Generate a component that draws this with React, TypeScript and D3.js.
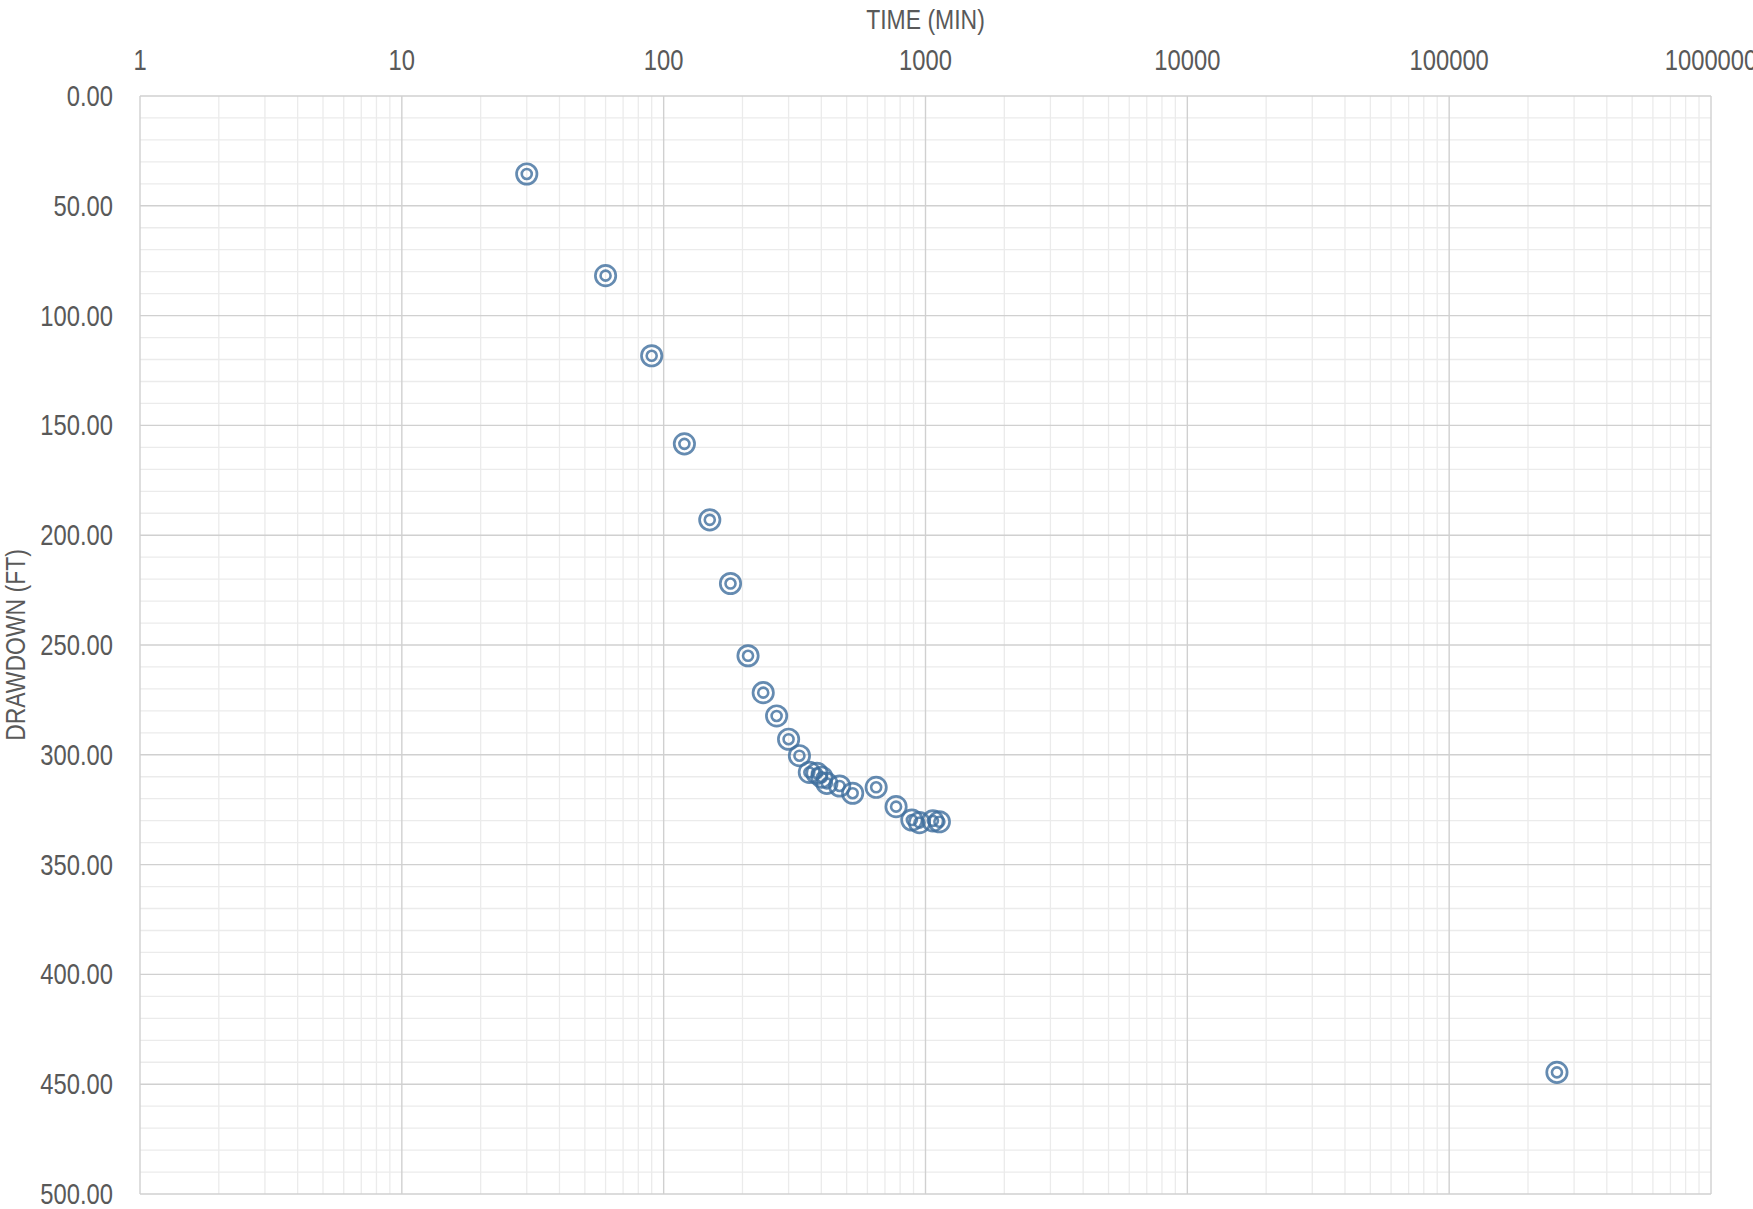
import React from 'react';
import * as d3 from 'd3';

// pumping test readings
const timeMin = [30, 60, 90, 120, 150, 180, 210, 240, 270, 300, 330, 360, 385, 402, 420, 470, 527, 648, 772, 887, 948, 1067, 1130, 258000];
const drawdownFt = [35.5, 81.8, 118.3, 158.4, 193, 222, 254.9, 271.7, 282.3, 292.9, 300.4, 308, 308.4, 310.2, 313, 314.2, 317.5, 314.8, 323.6, 329.7, 330.9, 330.1, 330.5, 444.6];

const xTickLabels = ['1', '10', '100', '1000', '10000', '100000', '1000000'];
const yTickValues = [0, 50, 100, 150, 200, 250, 300, 350, 400, 450, 500];

const W = 1753;
const H = 1209;
const left = 140;
const right = 1711;
const top = 96;
const bottom = 1194;

const font = '"Liberation Sans", Arial, sans-serif';
const textColor = '#595959';
const narrow = 0.82;
const markerColor = '#3f6f9e';

const App = () => {
  const x = d3.scaleLog().domain([1, 1e6]).range([left, right]);
  const y = d3.scaleLinear().domain([0, 500]).range([top, bottom]);

  const xAll = x.ticks();
  const isMajor = (v: number) => Math.abs(Math.log10(v) - Math.round(Math.log10(v))) < 1e-9;
  const xMinor = xAll.filter(v => !isMajor(v));
  const xMajor = xAll.filter(isMajor);
  const yMinor = d3.range(0, 501, 10).filter(v => v % 50 !== 0);
  const fmt = d3.format('.2f');

  const points = timeMin.map((t, i) => ({ t, d: drawdownFt[i] }));

  return (
    <div style={{ position: 'absolute', left: 0, top: 0 }}>
      <svg width={W} height={H} style={{ display: 'block', background: '#fff' }}>
        {/* minor grid */}
        {xMinor.map(v => (
          <line key={'xm' + v} x1={x(v)} x2={x(v)} y1={top} y2={bottom} stroke="#ebebeb" strokeWidth={1.3} />
        ))}
        {yMinor.map(v => (
          <line key={'ym' + v} x1={left} x2={right} y1={y(v)} y2={y(v)} stroke="#ebebeb" strokeWidth={1.3} />
        ))}
        {/* major grid */}
        {xMajor.map(v => (
          <line key={'xM' + v} x1={x(v)} x2={x(v)} y1={top} y2={bottom} stroke="#d0d0d0" strokeWidth={1.4} />
        ))}
        {yTickValues.map(v => (
          <line key={'yM' + v} x1={left} x2={right} y1={y(v)} y2={y(v)} stroke="#d0d0d0" strokeWidth={1.4} />
        ))}

        {/* x tick labels on top */}
        {xMajor.map((v, i) => (
          <text
            key={'xl' + v}
            transform={`translate(${x(v)},${top - 26}) scale(${narrow},1)`}
            textAnchor="middle"
            fontFamily={font}
            fontSize={29}
            fill={textColor}
          >
            {xTickLabels[i]}
          </text>
        ))}

        {/* y tick labels */}
        {yTickValues.map(v => (
          <text
            key={'yl' + v}
            transform={`translate(${left - 27},${y(v) + 10}) scale(${narrow},1)`}
            textAnchor="end"
            fontFamily={font}
            fontSize={29}
            fill={textColor}
          >
            {fmt(v)}
          </text>
        ))}

        {/* axis titles */}
        <text
          transform={`translate(${(left + right) / 2},29) scale(${narrow},1)`}
          textAnchor="middle"
          fontFamily={font}
          fontSize={28}
          fill={textColor}
        >
          TIME (MIN)
        </text>
        <text
          transform={`translate(25,${(top + bottom) / 2}) rotate(-90) scale(${narrow},1)`}
          textAnchor="middle"
          fontFamily={font}
          fontSize={28}
          fill={textColor}
        >
          DRAWDOWN (FT)
        </text>

        {/* markers */}
        {points.map((p, i) => (
          <g key={'p' + i} transform={`translate(${x(p.t)},${y(p.d)})`} opacity={0.8}>
            <circle r={10.2} fill="none" stroke={markerColor} strokeWidth={2.7} />
            <circle r={5} fill="none" stroke={markerColor} strokeWidth={2.6} />
          </g>
        ))}
      </svg>
    </div>
  );
};

export default App;
